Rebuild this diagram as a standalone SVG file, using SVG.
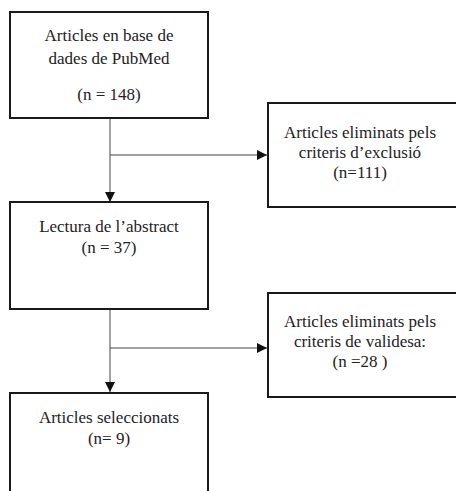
<svg xmlns="http://www.w3.org/2000/svg" width="456" height="491" viewBox="0 0 456 491">
<defs>
<style>
.box{fill:#fff;stroke:#1a1a1a;stroke-width:2}
.c{fill:none;stroke:#444;stroke-width:1}
</style>
<marker id="ah" viewBox="0 0 10 10" refX="10" refY="5" markerWidth="10" markerHeight="10" markerUnits="userSpaceOnUse" orient="auto">
<path d="M0,0 L10,5 L0,10 z" fill="#111"/>
</marker>
</defs>
<rect width="456" height="491" fill="#fff"/>
<g id="connectors">
<path class="c" d="M110,118 V202" marker-end="url(#ah)"/>
<path class="c" d="M110,155 H267" marker-end="url(#ah)"/>
<path class="c" d="M110,309 V392" marker-end="url(#ah)"/>
<path class="c" d="M110,348 H267" marker-end="url(#ah)"/>
</g>
<g font-family="Liberation Serif, Times New Roman, serif" font-size="17" fill="#222" text-anchor="middle">
<g id="n1">
<rect class="box" x="10" y="12" width="198" height="106"/>
<text x="109" y="41">Articles en base de</text>
<text x="109" y="64">dades de PubMed</text>
<text x="109" y="100">(n = 148)</text>
</g>
<g id="n2">
<rect class="box" x="268" y="103" width="200" height="104"/>
<text x="360" y="138">Articles eliminats pels</text>
<text x="360" y="158">criteris d’exclusió</text>
<text x="360" y="178">(n=111)</text>
</g>
<g id="n3">
<rect class="box" x="10" y="202" width="198" height="107"/>
<text x="109" y="232">Lectura de l’abstract</text>
<text x="109" y="253">(n = 37)</text>
</g>
<g id="n4">
<rect class="box" x="268" y="293" width="200" height="104"/>
<text x="360" y="327">Articles eliminats pels</text>
<text x="360" y="347">criteris de validesa:</text>
<text x="360" y="367">(n =28 )</text>
</g>
<g id="n5">
<rect class="box" x="10" y="393" width="198" height="110"/>
<text x="109" y="423">Articles seleccionats</text>
<text x="109" y="444">(n= 9)</text>
</g>
</g>
</svg>
